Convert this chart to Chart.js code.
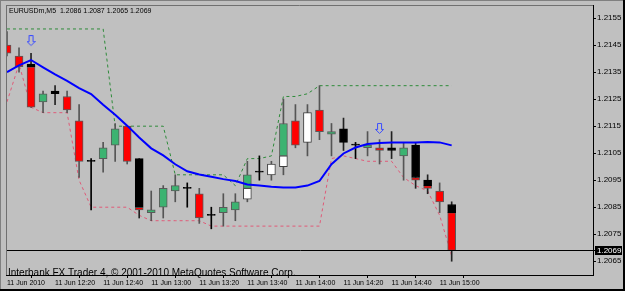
<!DOCTYPE html>
<html><head><meta charset="utf-8">
<script src="https://cdn.jsdelivr.net/npm/chart.js@4.4.1/dist/chart.umd.min.js"></script>
<style>html,body{margin:0;padding:0;background:#c0c0c0;}canvas{display:block;}</style>
</head><body>
<canvas id="c" width="625" height="291"></canvas>
<script>
// ---------- data ----------
const symbol = 'EURUSDm,M5';
const dateLabel = '11 Jun';
const firstLabel = '11 Jun 2010';
const copyright = 'Interbank FX Trader 4, \u00A9 2001-2010 MetaQuotes Software Corp.';
const barTimes = ['12:00','12:05','12:10','12:15','12:20','12:25','12:30','12:35','12:40','12:45',
  '12:50','12:55','13:00','13:05','13:10','13:15','13:20','13:25','13:30','13:35',
  '13:40','13:45','13:50','13:55','14:00','14:05','14:10','14:15','14:20','14:25',
  '14:30','14:35','14:40','14:45','14:50','14:55','15:00','15:05'];
const openP  = [1.2145,1.2141,1.2138,1.2124,1.2128,1.2126,1.2117,1.2102,1.2103,1.2108,
  1.2115,1.2103,1.2083,1.2085,1.2091,1.2092,1.2090,1.2082,1.2083,1.2084,
  1.2088,1.2098,1.2097,1.2100,1.2117,1.2109,1.2121,1.2112,1.2114,1.2108,
  1.2107,1.2107,1.2107,1.2104,1.2108,1.2095,1.2091,1.2086];
const highP  = [1.2150,1.2144,1.2142,1.2128,1.2130,1.2128,1.2123,1.2103,1.2109,1.2116,
  1.2115,1.2103,1.2091,1.2093,1.2097,1.2094,1.2092,1.2085,1.2090,1.2090,
  1.2102,1.2104,1.2102,1.2125,1.2123,1.2123,1.2130,1.2116,1.2118,1.2109,
  1.2113,1.2110,1.2113,1.2109,1.2109,1.2097,1.2094,1.2087];
const lowP   = [1.2141,1.2135,1.2122,1.2120,1.2123,1.2120,1.2096,1.2084,1.2098,1.2102,
  1.2101,1.2081,1.2080,1.2081,1.2087,1.2085,1.2079,1.2077,1.2078,1.2080,
  1.2087,1.2095,1.2095,1.2097,1.2107,1.2104,1.2110,1.2104,1.2106,1.2103,
  1.2104,1.2101,1.2103,1.2095,1.2092,1.2090,1.2083,1.2065];
const closeP = [1.2142,1.2137,1.2122,1.2127,1.2127,1.2121,1.2102,1.2102,1.2107,1.2114,
  1.2102,1.2084,1.2084,1.2092,1.2093,1.2092,1.2081,1.2082,1.2085,1.2087,
  1.2097,1.2098,1.2101,1.2116,1.2108,1.2120,1.2113,1.2113,1.2109,1.2108,
  1.2108,1.2106,1.2106,1.2107,1.2095,1.2092,1.2087,1.2069];
// body colouring class of the upper part (or whole body) and of the lower part below splitP
const bodyUpper = ['R','R','K','G','K','R','R','X','G','G','R','K','G','G','G','X','R','X','G','G',
  'G','X','W','G','R','W','R','G','K','X','G','R','K','G','K','K','R','K'];
const bodyLower = [null,null,'R',null,null,null,null,null,null,null,null,'R',null,null,null,null,null,null,null,null,
  'W',null,null,'W',null,null,null,null,null,null,null,null,null,null,'R','R',null,'R'];
const splitP = [null,null,1.2137,null,null,null,null,null,null,null,null,1.2085,null,null,null,null,null,null,null,null,
  1.2092,null,null,1.2104,null,null,null,null,null,null,null,null,null,null,1.2096,1.2093,null,1.2083];
const maLine = [1.2135,1.21375,1.21395,1.21368,1.21342,1.21318,1.21291,1.21269,1.21229,1.21192,
  1.21152,1.21108,1.21068,1.21042,1.21009,1.20983,1.20971,1.20963,1.20954,1.20947,
  1.20934,1.2093,1.20926,1.20923,1.20923,1.2093,1.20947,1.21009,1.21049,1.21071,
  1.21084,1.21088,1.2109,1.2109,1.2109,1.21091,1.2109,1.21079];
const upperBand = [1.2151,1.2151,1.2151,1.2151,1.2151,1.2151,1.2151,1.2151,1.2151,1.2115,
  1.2115,1.2115,1.2115,1.2115,1.2097,1.2097,1.2097,1.2097,1.2097,1.2093,
  1.2103,1.2103,1.2104,1.2126,1.2126,1.2127,1.2130,1.2130,1.2130,1.2130,
  1.2130,1.2130,1.2130,1.2130,1.2130,1.2130,1.2130,1.2130];
const lowerBand = [1.2124,1.2138,1.2122,1.2120,1.2120,1.2120,1.2095,1.2085,1.2085,1.2085,
  1.2085,1.2082,1.2080,1.2080,1.2080,1.2080,1.2080,1.2078,1.2078,1.2078,
  1.2078,1.2078,1.2078,1.2078,1.2078,1.2078,1.2078,1.2103,1.2104,1.2103,
  1.2102,1.2102,1.2102,1.2096,1.2093,1.2091,1.2082,1.2067];
const arrowSignal = [null,null,1.21465,null,null,null,null,null,null,null,null,null,null,null,null,null,null,null,null,null,
  null,null,null,null,null,null,null,null,null,null,null,1.2114,null,null,null,null,null,null];
const yTickLabels = ['1.2155','1.2145','1.2135','1.2125','1.2115','1.2105','1.2095','1.2085','1.2075','1.2065'];

// ---------- styles ----------
const BG = '#c0c0c0';
const FILL = {R:'#ff0000', G:'#3cb371', K:'#000000', W:'#ffffff', X:'#000000'};
const EDGE = {R:'#5a5a5a', G:'#5a5a5a', K:'#000000', W:'#404040', X:'#000000'};
const WICK = {R:'#555555', G:'#555555', K:'#222222', W:'#555555', X:'#000000'};
const FONT = "'Liberation Sans', Arial, sans-serif";
const SLOT_MIN = -0.083, SLOT_MAX = 48.76;

const idx = barTimes.map((t, i) => i);
const topOf = i => Math.max(openP[i], closeP[i]);
const botOf = i => Math.min(openP[i], closeP[i]);

const arrowImg = document.createElement('canvas');
arrowImg.width = 9; arrowImg.height = 12;
(function(){
  const a = arrowImg.getContext('2d');
  a.strokeStyle = '#3a4cff'; a.lineWidth = 1;
  a.beginPath();
  a.moveTo(2.5,0.5); a.lineTo(6.5,0.5); a.lineTo(6.5,6.5); a.lineTo(8.5,6.5);
  a.lineTo(4.5,10.5); a.lineTo(0.5,6.5); a.lineTo(2.5,6.5); a.closePath(); a.stroke();
})();

const minutes = t => parseInt(t.split(':')[1], 10);

const framePlugin = {
  id: 'frame',
  beforeDraw(chart) {
    const ctx = chart.ctx, W = chart.width, H = chart.height;
    ctx.save();
    ctx.fillStyle = BG; ctx.fillRect(0, 0, W, H);
    ctx.fillStyle = '#000'; ctx.fillRect(0, H - 2, W, 2); ctx.fillRect(W - 2, 0, 2, H);
    ctx.fillStyle = '#808080'; ctx.fillRect(0, 0, W - 2, 1); ctx.fillRect(0, 0, 1, H - 2);
    ctx.restore();
  },
  afterDatasetsDraw(chart) {
    const ctx = chart.ctx, a = chart.chartArea, ys = chart.scales.y;
    ctx.save();
    const last = closeP.length - 1;
    const yb = Math.round(ys.getPixelForValue(closeP[last])) + 0.5;
    ctx.strokeStyle = '#000'; ctx.lineWidth = 1;
    ctx.beginPath(); ctx.moveTo(a.left, yb); ctx.lineTo(a.right + 2, yb); ctx.stroke();
    ctx.strokeStyle = '#707070';
    ctx.beginPath(); ctx.moveTo(a.left + 0.5, a.top); ctx.lineTo(a.left + 0.5, a.bottom); ctx.stroke();
    ctx.beginPath(); ctx.moveTo(a.left, a.top - 0.5); ctx.lineTo(a.right, a.top - 0.5); ctx.stroke();
    ctx.strokeStyle = '#000';
    ctx.beginPath(); ctx.moveTo(a.right + 0.5, a.top - 1); ctx.lineTo(a.right + 0.5, a.bottom + 1); ctx.stroke();
    ctx.beginPath(); ctx.moveTo(a.left, a.bottom + 0.5); ctx.lineTo(a.right + 1, a.bottom + 0.5); ctx.stroke();
    ctx.fillStyle = '#000';
    ctx.fillRect(a.right + 2, yb - 4.5, 27, 9);
    ctx.fillStyle = '#fff'; ctx.font = '8px ' + FONT; ctx.textBaseline = 'middle'; ctx.textAlign = 'left';
    ctx.fillText(closeP[last].toFixed(4), a.right + 4, yb + 0.5);
    ctx.fillStyle = '#000'; ctx.font = '7px ' + FONT;
    ctx.fillText(symbol + '  ' + [openP[last], highP[last], lowP[last], closeP[last]].map(v => v.toFixed(4)).join(' '), a.left + 3, a.top + 5);
    ctx.font = '10px ' + FONT;
    ctx.fillText(copyright, a.left + 2, a.bottom - 2);
    ctx.restore();
  }
};

const wickData = idx.map(i => ({x: i, y: [lowP[i], highP[i]]}));
const upperData = idx.map(i => ({x: i, y: [splitP[i] !== null ? splitP[i] : botOf(i), topOf(i)]}));
const lowerData = idx.filter(i => splitP[i] !== null).map(i => ({x: i, y: [botOf(i), splitP[i]]}));
const lowerKinds = idx.filter(i => splitP[i] !== null).map(i => bodyLower[i]);

new Chart(document.getElementById('c'), {
  type: 'bar',
  data: {
    datasets: [
      {type: 'line', data: idx.map(i => ({x: i, y: arrowSignal[i]})).filter(p => p.y !== null),
        showLine: false, pointStyle: arrowImg, pointRadius: 5, order: 0},
      {type: 'line', data: idx.map(i => ({x: i, y: maLine[i]})), borderColor: '#0000ff', borderWidth: 2,
        pointRadius: 0, tension: 0, order: 1},
      {data: upperData, backgroundColor: idx.map(i => FILL[bodyUpper[i]]), borderColor: idx.map(i => EDGE[bodyUpper[i]]),
        borderWidth: 1, borderSkipped: false, barThickness: 8, minBarLength: 1, grouped: false, order: 2},
      {data: lowerData, backgroundColor: lowerKinds.map(k => FILL[k]), borderColor: lowerKinds.map(k => EDGE[k]),
        borderWidth: 1, borderSkipped: false, barThickness: 8, grouped: false, order: 3},
      {data: wickData, backgroundColor: idx.map(i => WICK[bodyUpper[i]]), borderWidth: 0, barThickness: 1, grouped: false, order: 4},
      {type: 'line', data: idx.map(i => ({x: i, y: upperBand[i]})), borderColor: '#2e8b3a', borderWidth: 1,
        borderDash: [3, 3], pointRadius: 0, tension: 0, order: 5},
      {type: 'line', data: idx.map(i => ({x: i, y: lowerBand[i]})), borderColor: '#e05a78', borderWidth: 1,
        borderDash: [3, 3], pointRadius: 0, tension: 0, order: 6}
    ]
  },
  options: {
    responsive: false, animation: false, devicePixelRatio: 1,
    layout: {padding: {left: 2, top: 3, right: 2, bottom: 2}},
    plugins: {legend: {display: false}, tooltip: {enabled: false}},
    scales: {
      x: {
        type: 'linear', position: 'bottom', min: SLOT_MIN, max: SLOT_MAX, offset: false,
        grid: {drawOnChartArea: false, drawTicks: true, tickLength: 3, color: '#000'},
        border: {display: false},
        afterBuildTicks: s => { s.ticks = idx.filter(i => minutes(barTimes[i]) % 20 === 0).map(i => ({value: i})); },
        afterFit: s => { s.height = 14; s.paddingLeft = 0; s.paddingRight = 0; },
        ticks: {autoSkip: false, maxRotation: 0, align: 'start', padding: 1, color: '#000',
          font: {family: FONT, size: 7},
          callback: v => v === 0 ? firstLabel : dateLabel + ' ' + barTimes[v]}
      },
      y: {
        type: 'linear', position: 'right', min: 1.20599, max: 1.21595,
        grid: {drawOnChartArea: false, drawTicks: true, tickLength: 3, color: '#000'},
        border: {display: false},
        afterBuildTicks: s => { s.ticks = yTickLabels.map(t => ({value: parseFloat(t)})); },
        afterFit: s => { s.width = 30; s.paddingTop = 0; s.paddingBottom = 0; },
        ticks: {autoSkip: false, padding: 1, color: '#000', font: {family: FONT, size: 8},
          callback: v => v.toFixed(4)}
      }
    }
  },
  plugins: [framePlugin]
});
</script>
</body></html>
